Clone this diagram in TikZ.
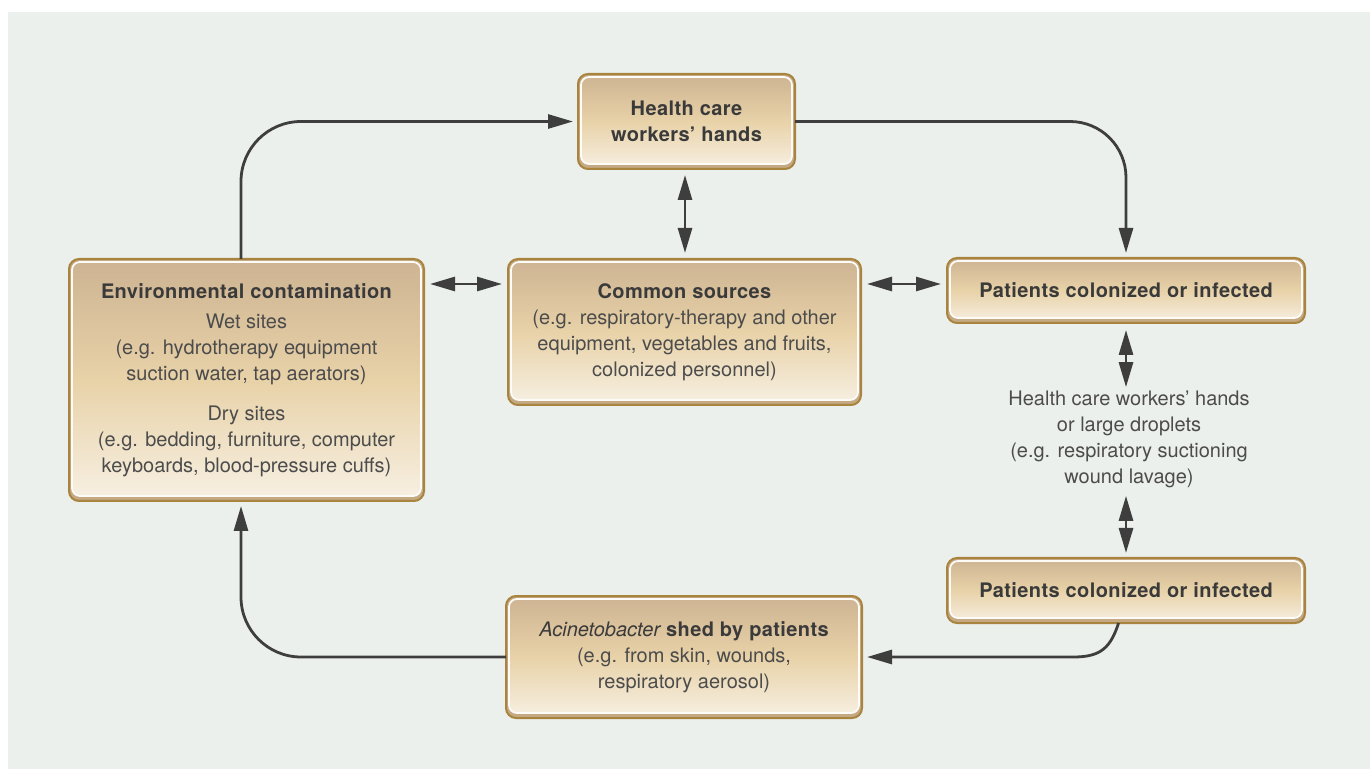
\documentclass[tikz,border=0pt]{standalone}
\usepackage{fontspec}
\setmainfont{TeX Gyre Heros}[BoldFeatures={LetterSpace=2}]
\usetikzlibrary{arrows.meta,calc}
\definecolor{bgc}{HTML}{ECF0EC}
\definecolor{brd}{HTML}{A8843F}
\definecolor{btop}{HTML}{CDB392}
\definecolor{bmid}{HTML}{E8D2A8}
\definecolor{bbot}{HTML}{F7F0E3}
\definecolor{bev}{HTML}{C4A982}
\definecolor{txt}{HTML}{3A3A3A}
\definecolor{txr}{HTML}{4C4C4C}
\definecolor{arr}{HTML}{3E3E3E}
\tikzset{
  box/.style={draw=brd, line width=1pt, rounded corners=5pt, fill=bev,
    inner sep=0pt, outer sep=0pt, align=center, text=txr,
    font=\fontsize{10}{13}\selectfont,
    path picture={\shade[top color=btop, bottom color=bbot, middle color=bmid,
      draw=white!75!bbot, line width=0.9pt, rounded corners=4pt]
      ([shift={(3,3)}]path picture bounding box.north west) rectangle
      ([shift={(-3,-5)}]path picture bounding box.south east);}},
  lbl/.style={align=center, text=txr, inner sep=0pt, font=\fontsize{10}{13}\selectfont},
  conn/.style={draw=arr, line width=1.4pt, -{Triangle[length=12.5pt,width=7pt]}, shorten >=2.5pt},
  dbl/.style={draw=arr, line width=1.4pt, {Triangle[length=12.5pt,width=7pt]}-{Triangle[length=12.5pt,width=7pt]}, shorten >=3pt, shorten <=3pt}
}
\begin{document}
\begin{tikzpicture}[x=0.5pt, y=-0.5pt]
\useasboundingbox (0,0) rectangle (1370,769);
\fill[bgc] (8,12) rectangle (1370,769);

\node[box, minimum width=108.5pt, minimum height=47.5pt] (hcw) at (686.5,121.5)
  {{\color{txt}\bfseries Health care}\\{\color{txt}\bfseries workers’ hands}};
\node[box, minimum width=177.5pt, minimum height=121pt] (env) at (246.5,380)
  {{\color{txt}\bfseries Environmental contamination}\\[2pt]
   Wet sites\\(e.g. hydrotherapy equipment\\suction water, tap aerators)\\[7pt]
   Dry sites\\(e.g. bedding, furniture, computer\\keyboards, blood-pressure cuffs)};
\node[box, minimum width=176.5pt, minimum height=73pt] (com) at (684.5,332)
  {{\color{txt}\bfseries Common sources}\\(e.g. respiratory-therapy and other\\equipment, vegetables and fruits,\\colonized personnel)};
\node[box, minimum width=179pt, minimum height=32.5pt] (pt) at (1126,290.5)
  {{\color{txt}\bfseries Patients colonized or infected}};
\node[box, minimum width=179pt, minimum height=32.5pt] (pb) at (1126,590.5)
  {{\color{txt}\bfseries Patients colonized or infected}};
\node[box, minimum width=178pt, minimum height=61pt] (ac) at (684,657)
  {{\color{txt}\itshape Acinetobacter}{\color{txt}\bfseries\ shed by patients}\\(e.g. from skin, wounds,\\respiratory aerosol)};
\node[lbl] (mid) at (1129,439)
  {Health care workers’ hands\\or large droplets\\(e.g. respiratory suctioning\\wound lavage)};

\coordinate (envtop) at ([xshift=-2.75pt]env.north);
\coordinate (envbot) at ([xshift=-2.75pt]env.south);
\coordinate (yrow) at (0,284);
\coordinate (pbb) at ([xshift=-3.7pt]pb.south);
\coordinate (bend) at ($(ac.east -| pbb)+(-45,0)$);

\draw[conn, rounded corners=30pt] (envtop) |- (hcw.west);
\draw[conn, rounded corners=28pt] (hcw.east) -| (pt.north);
\draw[dbl] (hcw.south -| 685,0) -- (com.north -| 685,0);
\draw[dbl] (env.east |- yrow) -- (com.west |- yrow);
\draw[dbl] (com.east |- yrow) -- (pt.west |- yrow);
\draw[dbl, shorten <=3.5pt, shorten >=1.5pt] (pt.south) -- (pt.south |- mid.north);
\draw[dbl, shorten <=4pt, shorten >=2.5pt] (pb.north |- mid.south) -- (pb.north);
\draw[conn] (pbb) .. controls +(-8,24) and +(28,0) .. (bend) -- (ac.east);
\draw[conn, rounded corners=30pt] (ac.west) -| (envbot);
\end{tikzpicture}
\end{document}
